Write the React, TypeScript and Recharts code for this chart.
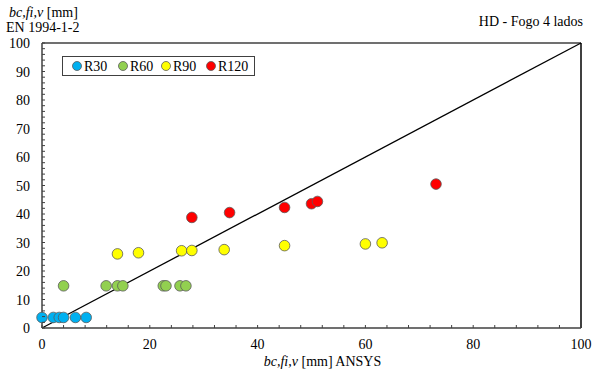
import { ScatterChart, Scatter, XAxis, YAxis, ReferenceLine, Label } from "recharts";

const FONT = '"Liberation Serif", "Times New Roman", serif';

// x: bc,fi,v ANSYS [mm], y: bc,fi,v EN 1994-1-2 [mm]
const r30X = [0, 2.1, 3.2, 4.0, 6.2, 8.2];
const r30Y = [3.7, 3.7, 3.7, 3.7, 3.7, 3.7];

const r60X = [4.0, 11.9, 14.0, 15.0, 22.5, 23.0, 25.6, 26.7];
const r60Y = [14.8, 14.8, 14.8, 14.8, 14.8, 14.8, 14.8, 14.8];

const r90X = [14.0, 17.9, 25.9, 27.8, 33.8, 45.0, 60.0, 63.1];
const r90Y = [26.0, 26.4, 27.1, 27.2, 27.5, 28.9, 29.5, 29.9];

const r120X = [27.8, 34.8, 45.0, 50.0, 51.1, 73.1];
const r120Y = [38.8, 40.5, 42.3, 43.6, 44.4, 50.5];

const xTicks = Array.from({ length: 26 }, (_, i) => i * 4);
const yTicks = Array.from({ length: 51 }, (_, i) => i * 2);

const toPoints = (xs: number[], ys: number[]) => xs.map((x, i) => ({ x, y: ys[i] }));

const series = [
  { label: "R30", color: "#00B0F0", data: toPoints(r30X, r30Y) },
  { label: "R60", color: "#92D050", data: toPoints(r60X, r60Y) },
  { label: "R90", color: "#FFFF00", data: toPoints(r90X, r90Y) },
  { label: "R120", color: "#FF0000", data: toPoints(r120X, r120Y) },
];

// legend item x positions (marker centre, text start)
const legendPos = [
  [77, 84],
  [123, 130],
  [166, 173],
  [211, 218],
];

const AXIS_COLOR = "#404040";
const TICK_MARGIN = 12;

const XTick = (props: any) => {
  const { x, y, payload } = props;
  const axisY = y - TICK_MARGIN;
  const v = payload.value;
  return (
    <g>
      <line x1={x} x2={x} y1={axisY} y2={axisY - 3} stroke={AXIS_COLOR} strokeWidth={1} />
      {v % 20 === 0 && (
        <text x={x} y={axisY + 21} textAnchor="middle" fontSize={14} fontFamily={FONT} fill="#000">
          {String(v)}
        </text>
      )}
    </g>
  );
};

const YTick = (props: any) => {
  const { x, y, payload } = props;
  const axisX = x + TICK_MARGIN;
  const v = payload.value;
  return (
    <g>
      <line x1={axisX} x2={axisX + 3} y1={y} y2={y} stroke={AXIS_COLOR} strokeWidth={1} />
      {v % 10 === 0 && (
        <text x={axisX - 12} y={y + 5} textAnchor="end" fontSize={14} fontFamily={FONT} fill="#000">
          {String(v)}
        </text>
      )}
    </g>
  );
};

const XTitle = (props: any) => {
  const vb = props.viewBox || { x: 42, y: 328, width: 539 };
  return (
    <text
      x={vb.x + vb.width / 2 + 11}
      y={vb.y + 38}
      textAnchor="middle"
      fontFamily={FONT}
      fontSize={14}
      fill="#000"
    >
      <tspan fontStyle="italic">bc,fi,v</tspan>
      <tspan> [mm] ANSYS</tspan>
    </text>
  );
};

const Dot = (color: string) => (props: any) => (
  <circle cx={props.cx} cy={props.cy} r={5.3} fill={color} stroke="#5a5a5a" strokeWidth={0.8} />
);

const Overlay = () => (
  <svg
    width={593}
    height={90}
    style={{ position: "absolute", left: 0, top: 0, pointerEvents: "none" }}
  >
    <g fontFamily={FONT} fill="#000" fontSize={14}>
      <text x={9} y={17}>
        <tspan fontStyle="italic">bc,fi,v</tspan>
        <tspan> [mm]</tspan>
      </text>
      <text x={6} y={32}>EN 1994-1-2</text>
      <text x={583} y={26} textAnchor="end">HD - Fogo 4 lados</text>
    </g>
    <rect x={62.5} y={56.5} width={192} height={19} fill="#fff" stroke={AXIS_COLOR} strokeWidth={1} />
    {series.map((s, i) => (
      <g key={s.label}>
        <circle cx={legendPos[i][0]} cy={66} r={4.5} fill={s.color} stroke="#5a5a5a" strokeWidth={0.8} />
        <text x={legendPos[i][1]} y={71} fontFamily={FONT} fontSize={14} fill="#000">
          <tspan>{s.label.slice(0, 1)}</tspan>
          <tspan>{s.label.slice(1)}</tspan>
        </text>
      </g>
    ))}
  </svg>
);

export default function App() {
  return (
    <div style={{ position: "absolute", left: 0, top: 0, width: 593, height: 376, background: "#fff" }}>
      <ScatterChart width={593} height={376} margin={{ top: 43, right: 12, bottom: 18, left: 0 }}>
        <XAxis
          type="number"
          dataKey="x"
          domain={[0, 100]}
          ticks={xTicks}
          interval={0}
          tickSize={0}
          tickMargin={TICK_MARGIN}
          tick={<XTick />}
          height={30}
          axisLine={{ stroke: AXIS_COLOR, strokeWidth: 1.5 }}
        >
          <Label content={<XTitle />} />
        </XAxis>
        <YAxis
          type="number"
          dataKey="y"
          domain={[0, 100]}
          ticks={yTicks}
          interval={0}
          tickSize={0}
          tickMargin={TICK_MARGIN}
          tick={<YTick />}
          width={42}
          axisLine={{ stroke: AXIS_COLOR, strokeWidth: 1.5 }}
        />
        <ReferenceLine y={100} stroke={AXIS_COLOR} strokeWidth={1.5} />
        <ReferenceLine x={100} stroke="#000" strokeWidth={1.5} />
        <ReferenceLine
          segment={[
            { x: 0, y: 0 },
            { x: 100, y: 100 },
          ]}
          stroke="#000"
          strokeWidth={1.3}
        />
        {series.map((s) => (
          <Scatter
            key={s.label}
            data={s.data}
            fill={s.color}
            shape={Dot(s.color)}
            isAnimationActive={false}
          />
        ))}
      </ScatterChart>
      <Overlay />
    </div>
  );
}
